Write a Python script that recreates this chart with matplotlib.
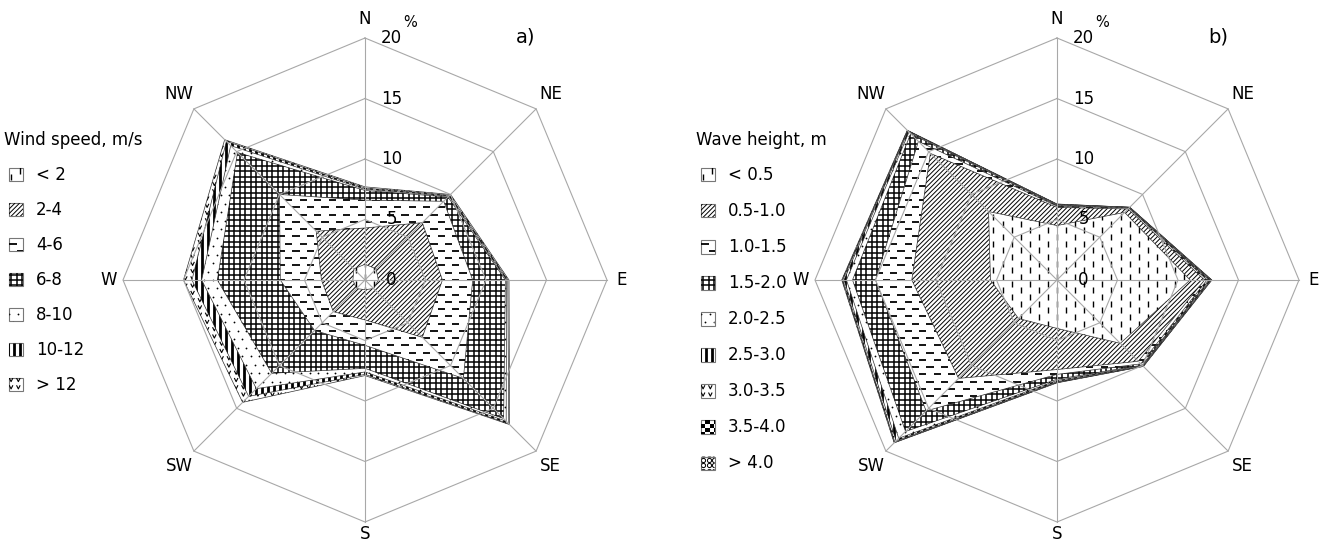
import numpy as np
import matplotlib.pyplot as plt
from matplotlib.patches import Polygon
from matplotlib.collections import LineCollection, PolyCollection

plt.rcParams['font.family'] = ['DejaVu Sans']

directions = ['N', 'NE', 'E', 'SE', 'S', 'SW', 'W', 'NW']
ring_values = [5, 10, 15, 20]
ring_labels = ['0', '5', '10', '15', '20']

# wind speed classes, % per direction (N, NE, E, SE, S, SW, W, NW)
wind_classes = ['< 2', '2-4', '4-6', '6-8', '8-10', '10-12', '> 12']
wind_lt2 = [1.3, 1.3, 1.1, 1.0, 0.8, 1.0, 1.0, 1.3]
wind_2_4 = [3.0, 5.4, 5.3, 5.7, 2.5, 2.7, 2.6, 4.4]
wind_4_6 = [2.3, 2.5, 2.5, 4.8, 2.1, 2.2, 3.4, 4.3]
wind_6_8 = [0.8, 0.5, 2.7, 4.7, 1.9, 5.0, 5.2, 4.9]
wind_8_10 = [0.1, 0.1, 0.1, 0.3, 0.3, 1.8, 1.3, 0.8]
wind_10_12 = [0.1, 0.1, 0.1, 0.3, 0.2, 0.9, 0.8, 0.5]
wind_gt12 = [0.1, 0.1, 0.1, 0.1, 0.1, 0.7, 0.7, 0.2]

# wave height classes
wave_classes = ['< 0.5', '0.5-1.0', '1.0-1.5', '1.5-2.0', '2.0-2.5',
                '2.5-3.0', '3.0-3.5', '3.5-4.0', '> 4.0']
wave_lt05 = [4.5, 7.9, 11.0, 7.4, 4.0, 4.5, 5.5, 8.0]
wave_05_10 = [1.5, 0.4, 1.2, 2.1, 3.4, 7.0, 6.5, 6.8]
wave_10_15 = [0.1, 0.1, 0.2, 0.3, 0.4, 3.8, 3.0, 1.4]
wave_15_20 = [0.05, 0.05, 0.15, 0.15, 0.4, 2.4, 1.9, 0.9]
wave_20_25 = [0.05, 0.03, 0.05, 0.05, 0.1, 0.8, 0.5, 0.2]
wave_25_30 = [0.03, 0.01, 0.1, 0.04, 0.1, 0.3, 0.2, 0.1]
wave_30_35 = [0.02, 0.01, 0.05, 0.03, 0.05, 0.15, 0.1, 0.05]
wave_35_40 = [0.02, 0.0, 0.03, 0.02, 0.03, 0.05, 0.05, 0.03]
wave_gt40 = [0.01, 0.0, 0.02, 0.01, 0.02, 0.03, 0.04, 0.02]

wind_data = [wind_lt2, wind_2_4, wind_4_6, wind_6_8, wind_8_10, wind_10_12, wind_gt12]
wave_data = [wave_lt05, wave_05_10, wave_10_15, wave_15_20, wave_20_25,
             wave_25_30, wave_30_35, wave_35_40, wave_gt40]

wind_patterns = ['vdash', 'diag', 'hdash', 'grid', 'dots', 'vbar', 'chev']
wave_patterns = ['vdash', 'diag', 'hdash', 'grid', 'dots', 'vbar', 'chev', 'check', 'circ']

az = np.deg2rad(np.arange(0, 360, 45))


def to_xy(r):
    r = np.asarray(r, dtype=float)
    return np.column_stack([r * np.sin(az), r * np.cos(az)])


def add_pattern(ax, patch, kind, bbox, z):
    x0, x1, y0, y1 = bbox
    segs = []
    lw = 0.8
    if kind == 'diag':
        step = 0.38
        h = y1 - y0
        start = np.floor((x0 - h) / step) * step
        for c in np.arange(start, x1 + step, step):
            segs.append([(c, y0), (c + h, y1)])
        lw = 0.7
    elif kind == 'grid':
        step = 0.45
        for xv in np.arange(np.floor(x0 / step) * step, x1 + step, step):
            segs.append([(xv, y0), (xv, y1)])
        for yv in np.arange(np.floor(y0 / step) * step, y1 + step, step):
            segs.append([(x0, yv), (x1, yv)])
        lw = 1.1
    elif kind == 'hdash':
        dy, px, L = 0.6, 1.2, 0.6
        for yv in np.arange(np.floor(y0 / dy) * dy, y1 + dy, dy):
            off = (round(yv / dy) % 2) * px / 2
            for xv in np.arange(np.floor(x0 / px) * px - px + off, x1 + px, px):
                segs.append([(xv, yv), (xv + L, yv)])
        lw = 1.3
    elif kind == 'vdash':
        dx, py, L = 0.75, 1.1, 0.5
        for xv in np.arange(np.floor(x0 / dx) * dx, x1 + dx, dx):
            off = (round(xv / dx) % 2) * py / 2
            for yv in np.arange(np.floor(y0 / py) * py - py + off, y1 + py, py):
                segs.append([(xv, yv), (xv, yv + L)])
        lw = 1.0
    elif kind == 'vbar':
        step = 0.5
        for xv in np.arange(np.floor(x0 / step) * step, x1 + step, step):
            segs.append([(xv, y0), (xv, y1)])
        lw = 2.0
    elif kind == 'chev':
        step = 0.6
        for yv in np.arange(np.floor(y0 / step) * step, y1 + step, step):
            for xv in np.arange(np.floor(x0 / step) * step, x1 + step, step):
                segs.append([(xv, yv + 0.3), (xv + 0.15, yv), (xv + 0.3, yv + 0.3)])
        lw = 0.8
    elif kind == 'dots':
        step = 0.7
        pts = []
        for yv in np.arange(np.floor(y0 / step) * step, y1 + step, step):
            off = (round(yv / step) % 2) * step / 2
            for xv in np.arange(np.floor(x0 / step) * step + off, x1 + step, step):
                pts.append((xv, yv))
        pts = np.array(pts)
        ln, = ax.plot(pts[:, 0], pts[:, 1], 'o', ms=1.3, color='black', mew=0, zorder=z)
        ln.set_clip_path(patch)
        return
    elif kind == 'check':
        step = 0.35
        sq = []
        for i, yv in enumerate(np.arange(np.floor(y0 / step) * step, y1 + step, step)):
            for j, xv in enumerate(np.arange(np.floor(x0 / step) * step, x1 + step, step)):
                if (i + j) % 2 == 0:
                    sq.append([(xv, yv), (xv + step, yv), (xv + step, yv + step), (xv, yv + step)])
        pc = PolyCollection(sq, facecolors='black', edgecolors='none', zorder=z)
        ax.add_collection(pc)
        pc.set_clip_path(patch)
        return
    elif kind == 'circ':
        step = 0.45
        pts = []
        for yv in np.arange(np.floor(y0 / step) * step, y1 + step, step):
            for xv in np.arange(np.floor(x0 / step) * step, x1 + step, step):
                pts.append((xv, yv))
        pts = np.array(pts)
        ln, = ax.plot(pts[:, 0], pts[:, 1], 'o', ms=3, mfc='white', mec='black', mew=0.7, zorder=z)
        ln.set_clip_path(patch)
        return
    lc = LineCollection(segs, colors='black', linewidths=lw, zorder=z, capstyle='butt')
    ax.add_collection(lc)
    lc.set_clip_path(patch)


def draw_rose(ax, data, classes, patterns, title, panel, step):
    cum = np.cumsum(np.array(data, dtype=float), axis=0)
    n = len(classes)
    # outer classes first, inner ones on top
    for i, k in enumerate(range(n - 1, -1, -1)):
        verts = to_xy(cum[k])
        z = 2 + 2 * i
        poly = Polygon(verts, closed=True, facecolor='white', edgecolor='#333333',
                       lw=0.5, zorder=z)
        ax.add_patch(poly)
        bbox = (verts[:, 0].min(), verts[:, 0].max(), verts[:, 1].min(), verts[:, 1].max())
        add_pattern(ax, poly, patterns[k], bbox, z + 1)

    # octagon grid and spokes
    for rv in ring_values:
        v = to_xy([rv] * 8)
        v = np.vstack([v, v[:1]])
        ax.plot(v[:, 0], v[:, 1], color='#a8a8a8', lw=0.8, zorder=30)
    outer = to_xy([ring_values[-1]] * 8)
    for p in outer:
        ax.plot([0, p[0]], [0, p[1]], color='#a8a8a8', lw=0.8, zorder=30)

    # radial labels
    for lab, rv in zip(ring_labels, [0] + ring_values):
        ax.text(2.2, rv, lab, ha='center', va='center', fontsize=12, zorder=40)
    ax.text(3.7, 21.3, '%', ha='center', va='center', fontsize=10.5, zorder=40)
    ax.text(13.3, 20.1, panel, ha='center', va='center', fontsize=14, zorder=40)

    # direction labels
    lab_xy = to_xy([21.6, 21.7, 21.2, 21.7, 21.0, 21.7, 21.2, 21.7])
    for d, p in zip(directions, lab_xy):
        ax.text(p[0], p[1], d, ha='center', va='center', fontsize=12)

    # legend
    ax.text(-29.8, 11.6, title, ha='left', va='center', fontsize=12)
    for k, lab in enumerate(classes):
        yc = 8.7 - step * k
        sq = [(-29.4, yc - 0.55), (-28.3, yc - 0.55), (-28.3, yc + 0.55), (-29.4, yc + 0.55)]
        box = Polygon(sq, closed=True, facecolor='white', edgecolor='#777777', lw=0.8, zorder=5)
        ax.add_patch(box)
        add_pattern(ax, box, patterns[k], (-29.4, -28.3, yc - 0.55, yc + 0.55), 6)
        ax.text(-27.2, yc, lab, ha='left', va='center', fontsize=12)


fig = plt.figure(figsize=(13.3, 5.47), dpi=100)
scale = 12.1  # px per percent

ax1 = fig.add_axes([0, 0, 0.5, 1])
ax1.set_xlim(-365 / scale, 300 / scale)
ax1.set_ylim(-267 / scale, 280 / scale)
ax1.axis('off')

ax2 = fig.add_axes([0.5, 0, 0.5, 1])
ax2.set_xlim(-392 / scale, 273 / scale)
ax2.set_ylim(-267 / scale, 280 / scale)
ax2.axis('off')

draw_rose(ax1, wind_data, wind_classes, wind_patterns, 'Wind speed, m/s', 'a)', 2.89)
draw_rose(ax2, wave_data, wave_classes, wave_patterns, 'Wave height, m', 'b)', 2.98)

fig.savefig('out.png', dpi=100, facecolor='white')
